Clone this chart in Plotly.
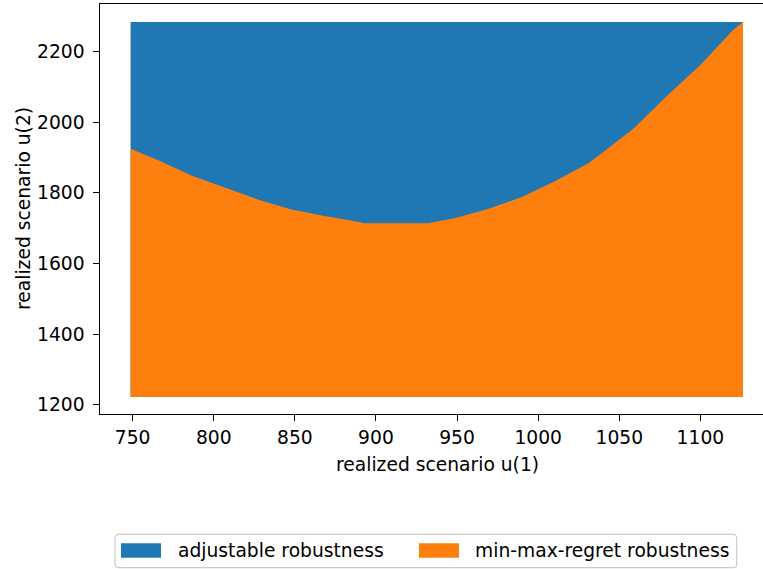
import plotly.graph_objects as go

# extent of the evaluated scenario grid
u1_extent = [748.75, 1126.25]
u2_extent = [1222, 2284]

# boundary between the two regions
boundary_u1 = [748.75, 766.5, 787, 807.5, 828, 848, 867.5, 888, 893, 932, 943.5,
               949, 969, 990, 1010, 1031, 1040, 1059, 1079, 1100, 1120, 1126.25]
boundary_u2 = [1925, 1891, 1848, 1813, 1780, 1753, 1735, 1719, 1714, 1714, 1723,
               1729, 1754, 1788, 1832, 1884, 1915, 1983, 2073, 2162, 2261, 2284]

x_ticks = [750, 800, 850, 900, 950, 1000, 1050, 1100]
y_ticks = [1200, 1400, 1600, 1800, 2000, 2200]

series_names = ["adjustable robustness", "min-max-regret robustness"]
series_colors = ["#1f77b4", "#ff7f0e"]

FONT = "DejaVu Sans"
FS = 18.7

fig = go.Figure()

# adjustable robustness region (whole grid, orange drawn on top)
blue_x = [u1_extent[0], u1_extent[1], u1_extent[1], u1_extent[0]]
blue_y = [u2_extent[0], u2_extent[0], u2_extent[1], u2_extent[1]]
fig.add_trace(go.Scatter(x=blue_x, y=blue_y, fill="toself", mode="lines",
                         line=dict(width=0), fillcolor=series_colors[0],
                         name=series_names[0], showlegend=False, hoverinfo="skip"))

# min-max-regret region: below the boundary
orange_x = list(boundary_u1) + [u1_extent[1], u1_extent[0]]
orange_y = list(boundary_u2) + [u2_extent[0], u2_extent[0]]
fig.add_trace(go.Scatter(x=orange_x, y=orange_y, fill="toself", mode="lines",
                         line=dict(width=0), fillcolor=series_colors[1],
                         name=series_names[1], showlegend=False, hoverinfo="skip"))

W, H = 763, 569
L, R, T, B = 100, 0, 4, 155
pw, ph = W - L - R, H - T - B


def px_x(p):
    return (p - L) / pw


def px_y(p):
    return (H - B - p) / ph


axis_common = dict(showgrid=False, zeroline=False, showline=True, linecolor="black",
                   linewidth=1.3, ticks="outside", ticklen=6, tickwidth=1.3,
                   tickcolor="black", tickfont=dict(family=FONT, size=FS, color="black"))

fig.update_xaxes(range=[729.9, 1138.6], tickvals=x_ticks, mirror=True, **axis_common)
fig.update_yaxes(range=[1173.7, 2335.0], tickvals=y_ticks, mirror=False,
                 showticklabels=False, **axis_common)

annotations = [
    dict(text="realized scenario u(1)", x=px_x(437), y=px_y(464), xref="paper", yref="paper",
         xanchor="center", yanchor="middle", showarrow=False,
         font=dict(family=FONT, size=FS, color="black")),
    dict(text="realized scenario u(2)", x=px_x(23), y=0.5, xref="paper", yref="paper",
         xanchor="center", yanchor="middle", textangle=-90, showarrow=False,
         font=dict(family=FONT, size=FS, color="black")),
]

# y tick labels placed like matplotlib's (further from the spine)
for v in y_ticks:
    annotations.append(dict(text=str(v), x=px_x(86), y=v, xref="paper", yref="y",
                            xanchor="right", yanchor="middle", showarrow=False,
                            borderpad=0, font=dict(family=FONT, size=FS, color="black")))

# legend (drawn manually to match the boxed patch legend)
shapes = []
bx0, bx1, by0, by1 = px_x(115), px_x(736.7), px_y(567.7), px_y(534.3)
rx, ry = 4 / pw, 4 / ph
path = (f"M{bx0+rx},{by0} L{bx1-rx},{by0} Q{bx1},{by0} {bx1},{by0+ry} "
        f"L{bx1},{by1-ry} Q{bx1},{by1} {bx1-rx},{by1} L{bx0+rx},{by1} "
        f"Q{bx0},{by1} {bx0},{by1-ry} L{bx0},{by0+ry} Q{bx0},{by0} {bx0+rx},{by0} Z")
shapes.append(dict(type="path", path=path, xref="paper", yref="paper",
                   line=dict(color="#cccccc", width=1.2), fillcolor="rgba(255,255,255,0.8)"))

legend_patch_px = [121, 419]
legend_text_px = [176, 473.3]
for name, color, ppx, tpx in zip(series_names, series_colors, legend_patch_px, legend_text_px):
    shapes.append(dict(type="rect", xref="paper", yref="paper",
                       x0=px_x(ppx), x1=px_x(ppx + 40), y0=px_y(557.7), y1=px_y(543.3),
                       line=dict(width=0), fillcolor=color))
    annotations.append(dict(text=name, x=px_x(tpx), y=px_y(550.5), xref="paper", yref="paper",
                            xanchor="left", yanchor="middle", showarrow=False,
                            font=dict(family=FONT, size=FS, color="black")))

fig.update_layout(width=W, height=H, margin=dict(l=L, r=R, t=T, b=B, autoexpand=False),
                  plot_bgcolor="white", paper_bgcolor="white", showlegend=False,
                  annotations=annotations, shapes=shapes,
                  font=dict(family=FONT, size=FS, color="black"))

fig.write_html("out.html", config={"displayModeBar": False},
               post_script="document.body.style.margin='0';document.body.style.overflow='hidden';")
